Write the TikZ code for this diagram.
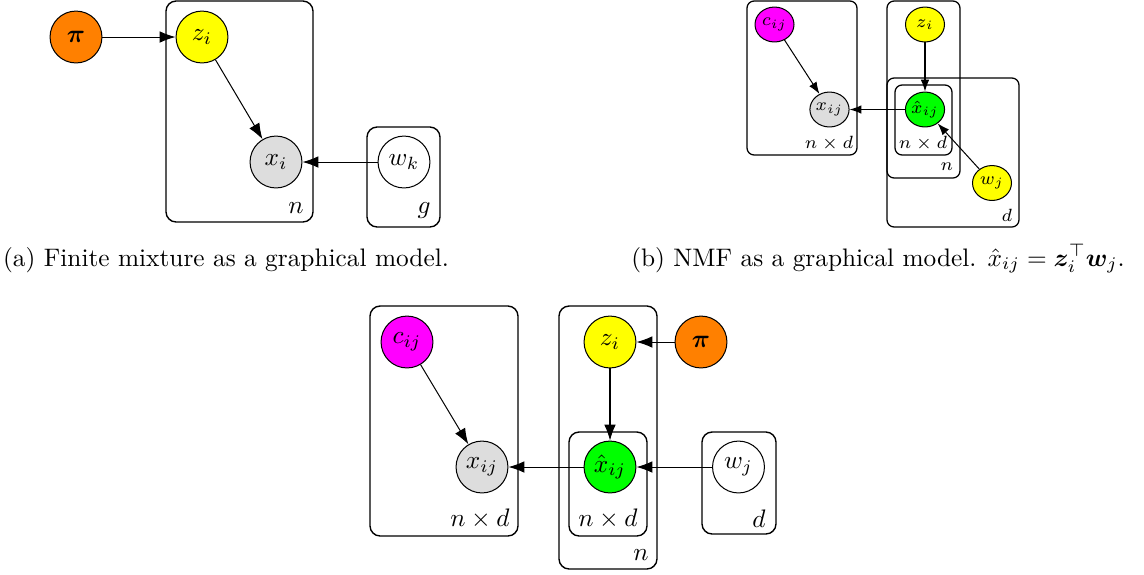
\documentclass[tikz,border=0pt]{standalone}
\usepackage{bm}
\usetikzlibrary{arrows.meta,shapes.geometric}
\definecolor{obs}{RGB}{221,221,221}
\definecolor{piorange}{RGB}{255,128,0}
\definecolor{pmag}{RGB}{255,0,255}
\definecolor{pyel}{RGB}{255,255,0}
\definecolor{pgrn}{RGB}{0,255,0}
\begin{document}
\begin{tikzpicture}[x=0.395pt,y=-0.395pt,
 var/.style={circle,draw,line width=0.4pt,inner sep=0pt,minimum size=20.5pt},
 svar/.style={ellipse,draw,line width=0.4pt,inner sep=0pt,minimum width=15.4pt,minimum height=13.8pt,font=\fontsize{7.4}{9}\selectfont},
 plate/.style={draw,line width=0.55pt,rounded corners=4pt},
 splate/.style={draw,line width=0.5pt,rounded corners=2.8pt},
 edge/.style={-{Latex[length=6.3pt,width=4.6pt]},line width=0.4pt},
 sedge/.style={-{Latex[length=4.7pt,width=3.4pt]},line width=0.4pt},
 lab/.style={inner sep=0pt},
 slab/.style={inner sep=0pt,font=\fontsize{7.4}{9}\selectfont},
 captext/.style={anchor=base,inner sep=0pt},
]
\useasboundingbox (0,0) rectangle (1144,574);

% ---------- (a) ----------
\draw[plate] (166,1) rectangle (313,222);
\draw[plate] (367,127) rectangle (440,227);
\node[var,fill=piorange] (pia) at (76,37) {$\bm{\pi}$};
\node[var,fill=pyel] (za) at (202,37) {$z_i$};
\node[var,fill=obs] (xa) at (276,162) {$x_i$};
\node[var,fill=white] (wa) at (404,162) {$w_k$};
\node[lab] (na) at (296,208) {$n$};
\node[lab] (ga) at (424,210) {$g$};
\draw[edge] (pia) -- (za);
\draw[edge] (za) -- (xa);
\draw[edge] (wa) -- (xa);
\node[captext] (capa) at (226,266) {(a) Finite mixture as a graphical model.};

% ---------- (b) ----------
\draw[splate] (747,1) rectangle (857,155);
\draw[splate] (887,1) rectangle (960,178);
\draw[splate] (895,85) rectangle (952,155);
\draw[splate] (887,78) rectangle (1019,227);
\node[svar,fill=pmag] (cb) at (774.5,24.5) {$c_{ij}$};
\node[svar,fill=obs] (xb) at (829.5,109.5) {$x_{ij}$};
\node[svar,fill=pyel] (zb) at (925,24.5) {$z_i$};
\node[svar,fill=pgrn] (xhb) at (925,109.5) {$\hat{x}_{ij}$};
\node[svar,fill=pyel] (wb) at (992,183) {$w_j$};
\node[slab] (nd1b) at (829,143) {$n\times d$};
\node[slab] (nb) at (947,167) {$n$};
\node[slab] (nd2b) at (923,143) {$n\times d$};
\node[slab] (db) at (1007,215) {$d$};
\draw[sedge] (cb) -- (xb);
\draw[sedge] (zb) -- (xhb);
\draw[sedge] (xhb) -- (xb);
\draw[sedge] (wb) -- (xhb);
\node[captext] (capb) at (878,266) {(b) NMF as a graphical model. $\hat{x}_{ij}=\bm{z}_i^\top\bm{w}_j$.};

% ---------- (c) ----------
\draw[plate] (370,306) rectangle (518,536);
\draw[plate] (559,306) rectangle (657,569);
\draw[plate] (569,432) rectangle (647,536);
\draw[plate] (702,432) rectangle (776,534);
\node[var,fill=pmag] (cc) at (407,342) {$c_{ij}$};
\node[var,fill=pyel] (zc) at (610,342) {$z_i$};
\node[var,fill=piorange] (pic) at (701,342) {$\bm{\pi}$};
\node[var,fill=obs] (xc) at (482,467) {$x_{ij}$};
\node[var,fill=pgrn] (xhc) at (610,467) {$\hat{x}_{ij}$};
\node[var,fill=white] (wc) at (738.5,467) {$w_j$};
\node[lab] (nd1c) at (480,519) {$n\times d$};
\node[lab] (nc) at (641,555) {$n$};
\node[lab] (nd2c) at (608,519) {$n\times d$};
\node[lab] (dc) at (759,519) {$d$};
\draw[edge] (cc) -- (xc);
\draw[edge] (pic) -- (zc);
\draw[edge] (zc) -- (xhc);
\draw[edge] (xhc) -- (xc);
\draw[edge] (wc) -- (xhc);
\end{tikzpicture}
\end{document}
